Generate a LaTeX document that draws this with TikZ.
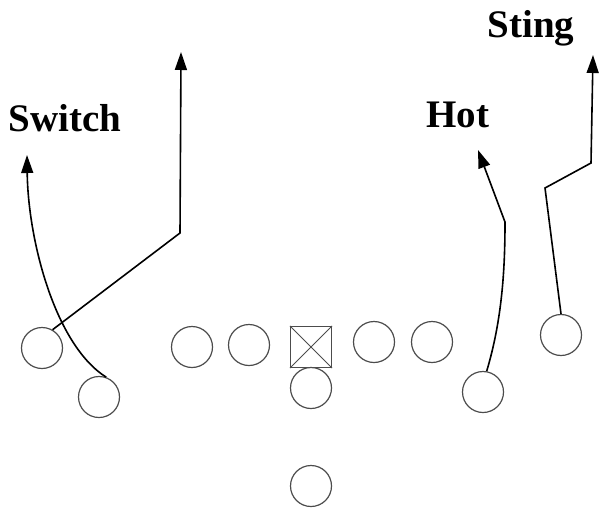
\documentclass[tikz,border=0pt]{standalone}
\usepackage{fontspec}
\setmainfont{Liberation Serif}
\usetikzlibrary{arrows.meta,%
                calc}

\begin{document}
\begin{tikzpicture}[x=1pt, y=-1pt]
    \tikzstyle{Player}=[circle, draw=black!70, line width=1.2pt, minimum size=41pt, inner sep=0pt]
    \tikzstyle{Route}=[line width=1.6pt, -{Triangle[length=18pt,width=12pt]}]
    \tikzstyle{Call}=[font=\bfseries\fontsize{39}{40}\selectfont, anchor=base, inner sep=0pt]
    \useasboundingbox (0,0) rectangle (601,508);
    % line
    \node[Player] (lwr) at (42,348) {};
    \node[Player] (lslot) at (99,397) {};
    \node[Player] (ltk) at (192,347) {};
    \node[Player] (lg) at (249,345) {};
    \node[draw=black!70, line width=1.2pt, minimum size=41pt, inner sep=0pt] (ctr) at (311,347) {};
    \draw[black!70, line width=1pt] (ctr.north west) -- (ctr.south east)
                                    (ctr.north east) -- (ctr.south west);
    \node[Player] (rg) at (374,342) {};
    \node[Player] (rtk) at (432,342) {};
    \node[Player] (qb) at (311,388) {};
    \node[Player] (rb) at (311,486) {};
    \node[Player] (rslot) at (483,392) {};
    \node[Player] (rwr) at (561,335) {};
    % routes
    \coordinate (post1) at (180,233);
    \coordinate (post2) at (181,52);
    \coordinate (switch) at (27,155);
    \coordinate (hot1) at (505,222);
    \coordinate (hot2) at (478,150);
    \coordinate (sting1) at (545,188);
    \coordinate (sting2) at (591,163);
    \coordinate (sting3) at (593,55);
    \draw[Route] (lwr.60) -- (post1) -- (post2);
    \draw[Route] (lslot.70) .. controls (55,345) and (28,240) .. (switch);
    \draw[Route] (rslot.80) .. controls (502,320) and (505,270) .. (hot1) -- (hot2);
    \draw[Route] (rwr.north) -- (sting1) -- (sting2) -- (sting3);
    % calls
    \node[Call] (lbl1) at (65,131) {Switch};
    \node[Call] (lbl2) at (458,127) {Hot};
    \node[Call] (lbl3) at (531,38) {Sting};
\end{tikzpicture}
\end{document}
